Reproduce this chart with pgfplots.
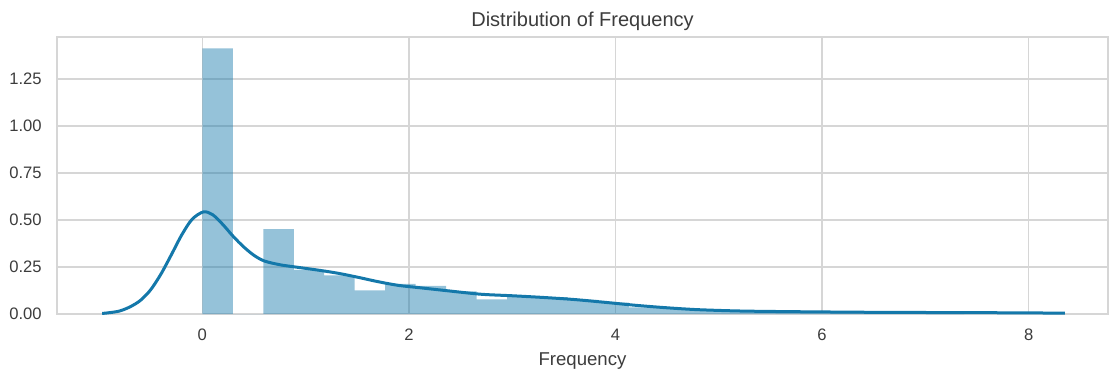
\documentclass[border=0pt]{standalone}
\usepackage{pgfplots}
\pgfplotsset{compat=1.18}
\usepackage{fontspec}
\setmainfont{Liberation Sans}
\definecolor{sbblue}{RGB}{20,120,170}
\definecolor{gridc}{RGB}{214,214,214}
\definecolor{txt}{RGB}{60,60,60}
\begin{document}
\begin{tikzpicture}
\begin{axis}[
  name=ax,
  scale only axis,
  width=525.5pt, height=138.5pt,
  xmin=-1.407, xmax=8.768,
  ymin=0, ymax=1.473,
  xtick={0,2,4,6,8},
  ytick={0,0.25,0.5,0.75,1,1.25},
  yticklabel style={/pgf/number format/fixed, /pgf/number format/fixed zerofill, /pgf/number format/precision=2},
  /pgf/number format/assume math mode=true,
  grid=major,
  grid style={draw=gridc, line width=0.8pt},
  axis line style={draw=gridc, line width=0.8pt},
  major tick length=0pt,
  tick label style={font=\fontsize{8.3}{10}\selectfont, text=txt, inner sep=0pt},
  xticklabel style={anchor=base, yshift=-13pt},
  yticklabel style={anchor=east, xshift=-7.5pt},
  xlabel={Frequency},
  xlabel style={at={(0.5,0)}, anchor=base, yshift=-25.5pt, font=\fontsize{9.3}{11}\selectfont, text=txt, inner sep=0pt},
  title={Distribution of Frequency},
  title style={at={(0.5,1)}, anchor=base, yshift=-0.5pt, font=\fontsize{10}{12}\selectfont, text=txt, inner sep=0pt},
]
\addplot[const plot, draw=none, fill=sbblue, fill opacity=0.45] coordinates {
(0.000,1.413) (0.295,0.000) (0.590,0.452) (0.885,0.235) (1.180,0.205)
(1.475,0.125) (1.770,0.160) (2.065,0.150) (2.360,0.120) (2.655,0.078)
(2.950,0.095) (3.245,0.090) (3.540,0.075) (3.835,0.060) (4.130,0.035)
(4.425,0.030) (4.720,0.020) (5.015,0.012) (5.310,0.010) (5.605,0.008)
(5.900,0.005) (6.195,0.006) (6.490,0.004) (6.785,0.003) (7.080,0.005)
(7.375,0.005)
} \closedcycle;
\addplot[smooth, sbblue, line width=1.5pt] coordinates {
(-0.97,0.003) (-0.90,0.007) (-0.80,0.016) (-0.70,0.038) (-0.60,0.072)
(-0.50,0.129) (-0.40,0.213) (-0.30,0.315) (-0.20,0.420) (-0.10,0.503)
(0.01,0.543) (0.10,0.528) (0.20,0.475) (0.30,0.412) (0.40,0.357)
(0.50,0.312) (0.60,0.282) (0.75,0.262) (0.90,0.250) (1.10,0.235)
(1.30,0.218) (1.50,0.196) (1.70,0.172) (1.90,0.152) (2.10,0.140)
(2.40,0.122) (2.70,0.105) (3.00,0.097) (3.30,0.088) (3.60,0.077)
(3.90,0.062) (4.20,0.046) (4.50,0.033) (4.80,0.023) (5.20,0.016)
(5.60,0.013) (6.00,0.011) (6.50,0.009) (7.00,0.008) (7.50,0.007)
(8.00,0.006) (8.35,0.004)
};
\end{axis}
\pgfresetboundingbox
\useasboundingbox ([shift={(-28.5pt,-28pt)}]ax.south west) rectangle ([shift={(0.5pt,18.5pt)}]ax.north east);
\end{tikzpicture}
\end{document}
